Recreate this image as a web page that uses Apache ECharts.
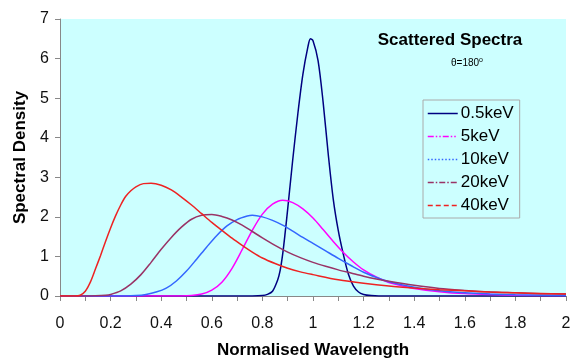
<!DOCTYPE html>
<html>
<head>
<meta charset="utf-8">
<script src="https://cdn.jsdelivr.net/npm/echarts@6/dist/echarts.min.js"></script>
<style>html,body{margin:0;padding:0;background:#fff;}#chart{width:576px;height:358px;}</style>
</head>
<body>
<div id="chart"></div>
<script>
const seriesNames = ['0.5keV', '5keV', '10keV', '20keV', '40keV'];

const wl05 = [0, 0.76, 0.80, 0.82, 0.84, 0.86, 0.87, 0.88, 0.89, 0.90, 0.92, 0.94, 0.96, 0.98, 0.99, 1.00, 1.02, 1.04, 1.06, 1.08, 1.10, 1.12, 1.14, 1.16, 1.18, 1.20, 1.23, 1.26, 2.0];
const sd05 = [0, 0, 0.01, 0.04, 0.12, 0.40, 0.64, 1.05, 1.60, 2.20, 3.45, 4.60, 5.60, 6.30, 6.50, 6.45, 5.95, 4.90, 3.60, 2.45, 1.65, 1.05, 0.55, 0.25, 0.10, 0.04, 0.01, 0, 0];

const wl5 = [0, 0.48, 0.52, 0.56, 0.60, 0.64, 0.68, 0.72, 0.76, 0.80, 0.84, 0.88, 0.92, 0.96, 1.00, 1.04, 1.08, 1.12, 1.16, 1.20, 1.25, 1.30, 1.35, 1.40, 1.50, 1.60, 1.70, 1.80, 2.00];
const sd5 = [0, 0, 0.01, 0.05, 0.15, 0.35, 0.70, 1.17, 1.66, 2.07, 2.32, 2.42, 2.36, 2.20, 1.97, 1.68, 1.38, 1.10, 0.86, 0.66, 0.48, 0.34, 0.26, 0.19, 0.11, 0.06, 0.04, 0.02, 0.01];

const wl10 = [0, 0.26, 0.30, 0.34, 0.38, 0.42, 0.46, 0.50, 0.54, 0.58, 0.62, 0.66, 0.70, 0.74, 0.76, 0.80, 0.84, 0.88, 0.92, 0.96, 1.00, 1.05, 1.10, 1.15, 1.20, 1.25, 1.30, 1.40, 1.50, 1.60, 1.70, 1.80, 1.90, 2.00];
const sd10 = [0, 0, 0.01, 0.04, 0.10, 0.20, 0.38, 0.63, 0.93, 1.24, 1.53, 1.77, 1.93, 2.02, 2.04, 2.00, 1.91, 1.79, 1.64, 1.48, 1.33, 1.14, 0.95, 0.77, 0.60, 0.47, 0.36, 0.22, 0.13, 0.08, 0.05, 0.03, 0.02, 0.01];

const wl20 = [0, 0.10, 0.14, 0.18, 0.20, 0.24, 0.28, 0.32, 0.36, 0.40, 0.44, 0.48, 0.52, 0.56, 0.60, 0.64, 0.68, 0.72, 0.76, 0.80, 0.85, 0.90, 0.95, 1.00, 1.05, 1.10, 1.15, 1.20, 1.25, 1.30, 1.40, 1.50, 1.60, 1.70, 1.80, 1.90, 2.00];
const sd20 = [0, 0, 0.005, 0.02, 0.04, 0.13, 0.30, 0.54, 0.85, 1.18, 1.48, 1.74, 1.94, 2.04, 2.06, 2.01, 1.92, 1.79, 1.63, 1.47, 1.28, 1.11, 0.97, 0.85, 0.75, 0.66, 0.58, 0.50, 0.43, 0.37, 0.27, 0.19, 0.14, 0.10, 0.08, 0.06, 0.05];

const wl40 = [0, 0.06, 0.08, 0.10, 0.12, 0.14, 0.16, 0.18, 0.20, 0.22, 0.24, 0.26, 0.28, 0.30, 0.33, 0.36, 0.40, 0.44, 0.48, 0.52, 0.56, 0.60, 0.64, 0.68, 0.72, 0.76, 0.80, 0.85, 0.90, 0.95, 1.00, 1.10, 1.20, 1.30, 1.40, 1.50, 1.60, 1.70, 1.80, 1.90, 2.00];
const sd40 = [0, 0, 0.02, 0.12, 0.35, 0.68, 1.02, 1.38, 1.72, 2.03, 2.30, 2.52, 2.66, 2.76, 2.84, 2.85, 2.80, 2.68, 2.50, 2.30, 2.08, 1.86, 1.66, 1.46, 1.28, 1.11, 0.96, 0.82, 0.70, 0.61, 0.54, 0.41, 0.32, 0.25, 0.20, 0.16, 0.13, 0.10, 0.08, 0.065, 0.05];

const xTicks = [0, 0.2, 0.4, 0.6, 0.8, 1, 1.2, 1.4, 1.6, 1.8, 2];
const yTicks = [0, 1, 2, 3, 4, 5, 6, 7];

const colors = ['#000080', '#FF00FF', '#3366FF', '#993366', '#EE2222'];
const legendDash = ['solid', [6, 2, 1.5, 2, 1.5, 2], [1.5, 2], [6, 2, 1.5, 2], [5, 3]];

const xs = [wl05, wl5, wl10, wl20, wl40];
const ys = [sd05, sd5, sd10, sd20, sd40];
const zip = (a, b) => a.map((v, i) => [v, b[i]]);

const font = '"Liberation Sans", Arial, sans-serif';

const chart = echarts.init(document.getElementById('chart'), null, {renderer: 'canvas'});
chart.setOption({
  animation: false,
  backgroundColor: '#ffffff',
  color: colors,
  title: [
    {
      text: 'Scattered Spectra',
      left: 445, top: 27, textAlign: 'center',
      textStyle: {fontFamily: font, fontSize: 17, fontWeight: 'bold', color: '#000'}
    },
    {
      text: '{a|θ=180}{s|o}',
      left: 462, top: 52, textAlign: 'center',
      textStyle: {
        fontFamily: font, fontSize: 10, fontWeight: 'normal', color: '#000',
        rich: {
          a: {fontFamily: font, fontSize: 10, fontWeight: 'normal', color: '#000'},
          s: {fontFamily: font, fontSize: 7, fontWeight: 'normal', color: '#000', verticalAlign: 'top', padding: [0, 0, 5, 0]}
        }
      }
    }
  ],
  legend: {
    orient: 'vertical',
    left: 423, top: 100,
    padding: [5, 6, 4, 4],
    itemWidth: 30, itemHeight: 14, itemGap: 6,
    icon: 'inherit',
    itemStyle: {opacity: 0, borderWidth: 0},
    borderColor: '#aaaaaa', borderWidth: 1,
    textStyle: {fontFamily: font, fontSize: 17, color: '#000', padding: [0, 0, 0, -2]},
    data: seriesNames.map((n, i) => ({
      name: n,
      lineStyle: {type: legendDash[i], width: 1.5, color: colors[i]}
    }))
  },
  grid: {
    left: 60, right: 10, top: 19, bottom: 62,
    outerBoundsMode: 'none',
    containLabel: false,
    show: true, backgroundColor: '#CCFFFF', borderWidth: 0
  },
  xAxis: {
    type: 'value', min: 0, max: 2, interval: 0.2,
    name: 'Normalised Wavelength', nameLocation: 'middle', nameGap: 46,
    nameTextStyle: {fontFamily: font, fontSize: 17, fontWeight: 'bold', color: '#000'},
    axisLine: {show: true, lineStyle: {color: '#888', width: 1}},
    axisTick: {show: true, length: 5, lineStyle: {color: '#888'}},
    minorTick: {show: true, splitNumber: 2, length: 5, lineStyle: {color: '#888'}},
    splitLine: {show: false},
    axisLabel: {
      margin: 20, fontFamily: font, fontSize: 16, color: '#111',
      formatter: v => { const t = xTicks.find(k => Math.abs(k - v) < 1e-9); return t === undefined ? '' : String(t); }
    }
  },
  yAxis: {
    type: 'value', min: 0, max: 7, interval: 1,
    name: 'Spectral Density', nameLocation: 'middle', nameGap: 26,
    nameTextStyle: {fontFamily: font, fontSize: 17, fontWeight: 'bold', color: '#000'},
    axisLine: {show: true, lineStyle: {color: '#888', width: 1}},
    axisTick: {show: true, length: 5, lineStyle: {color: '#888'}},
    splitLine: {show: false},
    axisLabel: {
      margin: 11, fontFamily: font, fontSize: 16, color: '#111',
      formatter: v => { const t = yTicks.find(k => Math.abs(k - v) < 1e-9); return t === undefined ? '' : String(t); }
    }
  },
  series: seriesNames.map((n, i) => ({
    name: n,
    type: 'line',
    data: zip(xs[i], ys[i]),
    symbol: 'none',
    smooth: 0.3,
    lineStyle: {width: 1.5, color: colors[i], type: 'solid'},
    itemStyle: {color: colors[i]},
    z: 2 + i
  }))
});
</script>
</body>
</html>
